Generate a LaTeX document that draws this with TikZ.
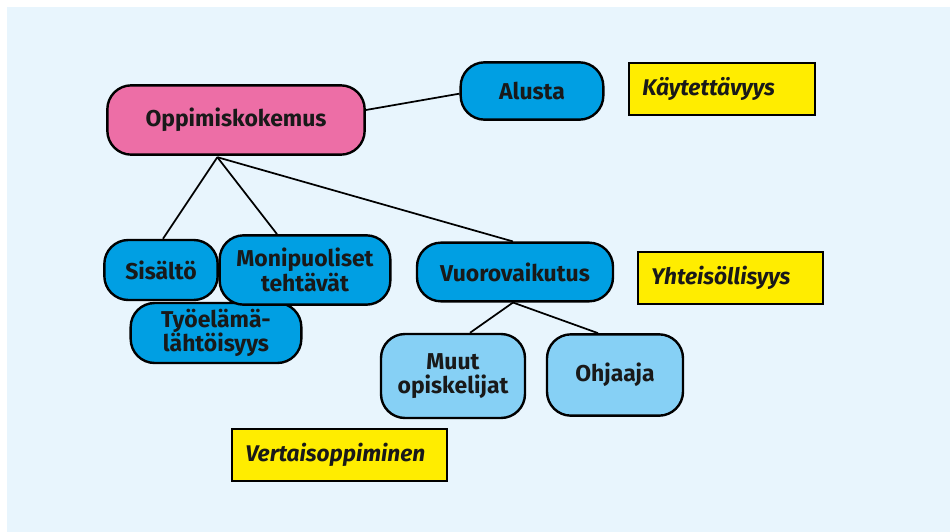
\documentclass[tikz,border=0pt]{standalone}
\usepackage{fontspec}
\setmainfont{Fira Sans}
\definecolor{bgblue}{RGB}{232,245,253}
\definecolor{pinkbox}{RGB}{237,110,166}
\definecolor{bluebox}{RGB}{0,159,227}
\definecolor{lightbox}{RGB}{134,208,245}
\definecolor{tagyellow}{RGB}{255,237,0}
\tikzset{
  box/.style={draw=black, line width=1.8pt, rounded corners=18pt, align=center,
    inner sep=0pt, text=black!90, font=\bfseries\fontsize{17.2}{18.2}\selectfont},
  topic/.style={box, fill=pinkbox},
  sub/.style={box, fill=bluebox},
  leaf/.style={box, fill=lightbox},
  tag/.style={draw=black, line width=1.5pt, fill=tagyellow, text width=#1,
    align=left, inner xsep=10pt, minimum height=39pt, text=black!90,
    font=\bfseries\itshape\fontsize{17}{18}\selectfont},
  link/.style={line width=1.3pt},
}
\begin{document}
\begin{tikzpicture}[x=0.75pt,y=-0.75pt]
  \useasboundingbox (0,0) rectangle (950,532);
  \fill[bgblue] (7,7) rectangle (950,532);

  % main topic and its branches
  \node[topic, minimum width=193pt, minimum height=52pt] (opp) at (236,120) {Oppimiskokemus};
  \node[sub, minimum width=107pt, minimum height=43pt] (alusta) at (532,91) {Alusta};
  \node[sub, minimum width=128pt, minimum height=45pt] (tyo) at (216,333) {Työelämä-\\lähtöisyys};
  \node[sub, minimum width=85pt, minimum height=45pt] (sis) at (161,270) {Sisältö};
  \node[sub, minimum width=128pt, minimum height=52pt] (moni) at (305,270) {Monipuoliset\\tehtävät};
  \node[sub, minimum width=147pt, minimum height=44pt] (vuoro) at (515,272) {Vuorovaikutus};
  \node[leaf, minimum width=108pt, minimum height=63pt] (muut) at (453,376) {Muut\\opiskelijat};
  \node[leaf, minimum width=102pt, minimum height=61pt] (ohj) at (615,375) {Ohjaaja};

  % yellow tags
  \node[tag=119.5pt] (kayt) at (722,89) {Käytettävyys};
  \node[tag=119pt] (yht) at (730.5,277.5) {Yhteisöllisyys};
  \node[tag=141pt] (vert) at (339.5,454.5) {Vertaisoppiminen};

  % connectors
  \coordinate (hub) at ([xshift=-14pt,yshift=-1pt]opp.south);
  \draw[link] ([yshift=7.5pt]opp.east) -- ([yshift=-2pt]alusta.west);
  \draw[link] (hub) -- ([xshift=1.5pt]sis.north);
  \draw[link] (hub) -- ([xshift=-21pt]moni.north);
  \draw[link] (hub) -- ([xshift=-1.5pt]vuoro.north);
  \draw[link] ([xshift=-1.5pt]vuoro.south) -- ([xshift=12.75pt]muut.north);
  \draw[link] ([xshift=-1.5pt]vuoro.south) -- ([xshift=-12.75pt]ohj.north);
\end{tikzpicture}
\end{document}
